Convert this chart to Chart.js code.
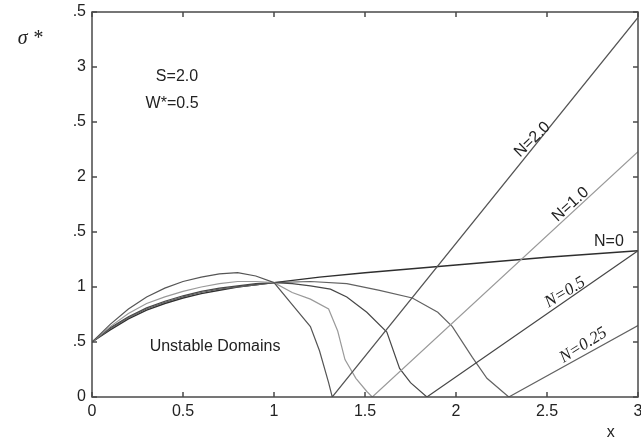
<!DOCTYPE html>
<html>
<head>
<meta charset="utf-8">
<script src="https://cdn.jsdelivr.net/npm/chart.js@4.4.1/dist/chart.umd.min.js"></script>
<style>
html,body{margin:0;padding:0;background:#fff;}
#wrap{width:641px;height:445px;}
</style>
</head>
<body>
<div id="wrap"><canvas id="c" width="641" height="445"></canvas></div>
<script>
// ---- data ----
const xTickLabels = ['0','0.5','1','1.5','2','2.5','3'];
const yTickLabels = ['0','.5','1','.5','2','.5','3','.5'];

const n2X = [0,0.1,0.2,0.3,0.4,0.5,0.6,0.7,0.8,0.9,1.0,1.1,1.2,1.25,1.3,1.32,3.0];
const n2Y = [0.5,0.66,0.80,0.91,0.99,1.05,1.09,1.12,1.13,1.10,1.04,0.84,0.64,0.42,0.13,0,3.45];

const n1X = [0,0.1,0.2,0.3,0.4,0.5,0.6,0.7,0.8,0.9,1.0,1.1,1.2,1.3,1.35,1.39,1.45,1.51,1.54,3.0];
const n1Y = [0.5,0.64,0.76,0.85,0.91,0.96,1.00,1.03,1.05,1.05,1.04,0.95,0.89,0.80,0.60,0.34,0.17,0.05,0,2.23];

const n05X = [0,0.1,0.2,0.3,0.4,0.5,0.6,0.7,0.8,0.9,1.0,1.1,1.2,1.31,1.4,1.51,1.62,1.69,1.75,1.84,3.0];
const n05Y = [0.5,0.63,0.73,0.81,0.87,0.92,0.96,0.99,1.01,1.03,1.04,1.03,1.01,0.98,0.91,0.77,0.59,0.26,0.13,0,1.33];

const n025X = [0,0.1,0.2,0.3,0.4,0.5,0.6,0.7,0.8,0.9,1.0,1.2,1.4,1.58,1.76,1.9,1.98,2.09,2.17,2.29,3.0];
const n025Y = [0.5,0.62,0.72,0.80,0.86,0.91,0.95,0.98,1.00,1.02,1.04,1.05,1.03,0.97,0.90,0.77,0.64,0.36,0.17,0,0.65];

const n0X = [0,0.1,0.2,0.3,0.4,0.5,0.6,0.7,0.8,0.9,1.0,1.25,1.5,2.0,2.5,3.0];
const n0Y = [0.5,0.61,0.71,0.79,0.85,0.90,0.94,0.97,1.00,1.02,1.04,1.09,1.13,1.20,1.27,1.33];

const pts = (xs, ys) => xs.map((x, i) => ({x, y: ys[i]}));

// annotations: [text, x, y, angleDeg, font]
const notes = [
  ['S=2.0', 0.467, 2.91, 0, '16px "Liberation Sans", Arial, sans-serif'],
  ['W*=0.5', 0.44, 2.67, 0, '16px "Liberation Sans", Arial, sans-serif'],
  ['Unstable Domains', 0.676, 0.455, 0, '16px "Liberation Sans", Arial, sans-serif'],
  ['N=2.0', 2.42, 2.34, -44, '16px "Liberation Sans", Arial, sans-serif'],
  ['N=1.0', 2.63, 1.75, -42, '16px "Liberation Sans", Arial, sans-serif'],
  ['N=0', 2.84, 1.41, 0, '16px "Liberation Sans", Arial, sans-serif'],
  ['N=0.5', 2.60, 0.95, -31, 'italic 17px "Liberation Serif", "Times New Roman", serif'],
  ['N=0.25', 2.70, 0.47, -32, 'italic 17px "Liberation Serif", "Times New Roman", serif'],
  ['σ *', -0.34, 3.26, 0, 'italic 20px "Liberation Serif", "Times New Roman", serif'],
  ['x', 2.85, -0.32, 0, '16px "Liberation Sans", Arial, sans-serif']
];

const framePlugin = {
  id: 'frame',
  afterDatasetsDraw(chart) {
    const {ctx, chartArea: a, scales: {x, y}} = chart;
    ctx.save();
    ctx.strokeStyle = '#4a4a4a';
    ctx.lineWidth = 1.5;
    ctx.strokeRect(a.left, a.top, a.right - a.left, a.bottom - a.top);
    const tl = 5;
    x.ticks.forEach(t => {
      const px = x.getPixelForValue(t.value);
      ctx.beginPath();
      ctx.moveTo(px, a.bottom); ctx.lineTo(px, a.bottom - tl);
      ctx.moveTo(px, a.top); ctx.lineTo(px, a.top + tl);
      ctx.stroke();
    });
    y.ticks.forEach(t => {
      const py = y.getPixelForValue(t.value);
      ctx.beginPath();
      ctx.moveTo(a.left, py); ctx.lineTo(a.left + tl, py);
      ctx.moveTo(a.right, py); ctx.lineTo(a.right - tl, py);
      ctx.stroke();
    });
    ctx.fillStyle = '#222';
    ctx.textAlign = 'center';
    ctx.textBaseline = 'middle';
    notes.forEach(([txt, vx, vy, ang, font]) => {
      const px = x.getPixelForValue(vx), py = y.getPixelForValue(vy);
      ctx.save();
      ctx.translate(px, py);
      ctx.rotate(ang * Math.PI / 180);
      ctx.font = font;
      ctx.fillText(txt, 0, 0);
      ctx.restore();
    });
    ctx.restore();
  }
};

const ds = (label, data, color, w) => ({
  label, data, borderColor: color, borderWidth: w, pointRadius: 0,
  showLine: true, fill: false, tension: 0
});

new Chart(document.getElementById('c'), {
  type: 'scatter',
  data: {
    datasets: [
      ds('N=2.0', pts(n2X, n2Y), '#555555', 1.2),
      ds('N=1.0', pts(n1X, n1Y), '#9a9a9a', 1.2),
      ds('N=0.5', pts(n05X, n05Y), '#474747', 1.2),
      ds('N=0.25', pts(n025X, n025Y), '#626262', 1.2),
      ds('N=0', pts(n0X, n0Y), '#2e2e2e', 1.4)
    ]
  },
  options: {
    responsive: false,
    animation: false,
    layout: {padding: {left: 0, right: 3, top: 12, bottom: 0}},
    plugins: {legend: {display: false}, tooltip: {enabled: false}},
    scales: {
      x: {
        type: 'linear', min: 0, max: 3,
        grid: {display: false, drawTicks: false},
        border: {display: false},
        ticks: {
          stepSize: 0.5, padding: 5, color: '#222', maxRotation: 0,
          font: {size: 16, family: '"Liberation Sans", Arial, sans-serif'},
          callback: (v, i) => xTickLabels[i]
        },
        afterFit: s => { s.height = 48; s.paddingLeft = 0; s.paddingRight = 0; }
      },
      y: {
        type: 'linear', min: 0, max: 3.5,
        grid: {display: false, drawTicks: false},
        border: {display: false},
        ticks: {
          stepSize: 0.5, padding: 6, color: '#222',
          font: {size: 16, family: '"Liberation Sans", Arial, sans-serif'},
          callback: (v, i) => yTickLabels[i]
        },
        afterFit: s => { s.width = 92; s.paddingTop = 0; s.paddingBottom = 0; }
      }
    }
  },
  plugins: [framePlugin]
});
</script>
</body>
</html>
